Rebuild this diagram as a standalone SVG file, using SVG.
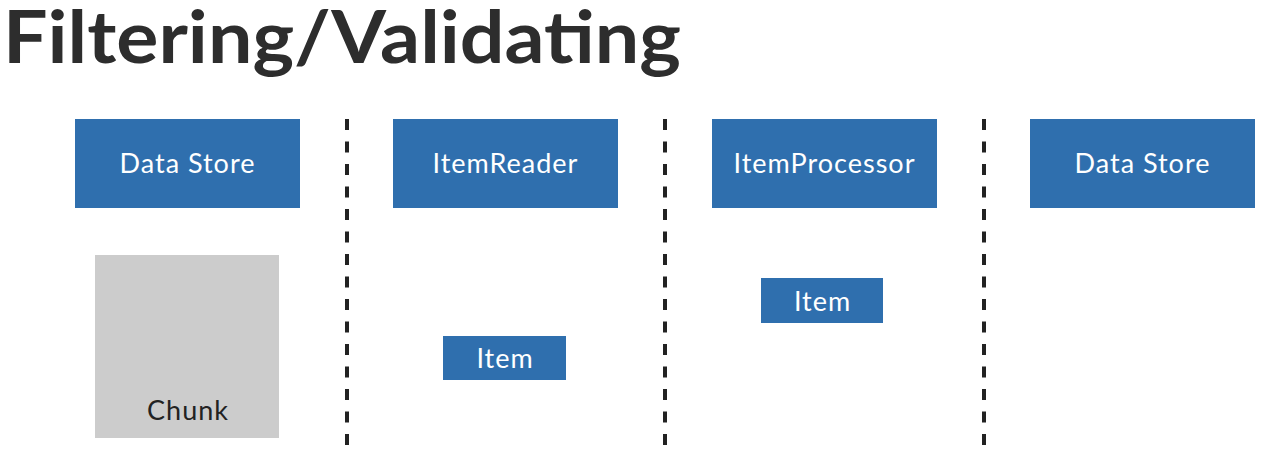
<svg xmlns="http://www.w3.org/2000/svg" width="1264" height="452" viewBox="0 0 1264 452">
<style>
.box{fill:#2f6fae}
.lbl{fill:#ffffff;font-family:Lato,"Open Sans","Liberation Sans",sans-serif;font-size:27px;letter-spacing:1px;text-anchor:middle}
.sep{stroke:#222222;stroke-width:4;stroke-dasharray:11 11.5}
</style>
<rect width="1264" height="452" fill="#ffffff"/>
<text x="3" y="63" font-family="Lato,'Liberation Sans',sans-serif" font-weight="700" font-size="73" fill="#2d2d2d" textLength="678" lengthAdjust="spacingAndGlyphs">Filtering/Validating</text>
<g id="connectors">
<line class="sep" x1="347" y1="119" x2="347" y2="452"/>
<line class="sep" x1="665" y1="119" x2="665" y2="452"/>
<line class="sep" x1="984" y1="119" x2="984" y2="452"/>
</g>
<g id="datastore1"><rect class="box" x="75" y="119" width="225" height="89"/><text class="lbl" x="187.5" y="173">Data Store</text></g>
<g id="itemreader"><rect class="box" x="393" y="119" width="225" height="89"/><text class="lbl" x="505.5" y="173">ItemReader</text></g>
<g id="itemprocessor"><rect class="box" x="712" y="119" width="225" height="89"/><text class="lbl" x="824.5" y="173">ItemProcessor</text></g>
<g id="datastore2"><rect class="box" x="1030" y="119" width="225" height="89"/><text class="lbl" x="1142.5" y="173">Data Store</text></g>
<g id="chunk"><rect x="95" y="255" width="184" height="183" fill="#cccccc"/><text x="188" y="420" font-family="Lato,'Open Sans','Liberation Sans',sans-serif" font-size="27" letter-spacing="1" fill="#222222" text-anchor="middle">Chunk</text></g>
<g id="item1"><rect class="box" x="443" y="336" width="123" height="44"/><text class="lbl" x="505" y="368">Item</text></g>
<g id="item2"><rect class="box" x="761" y="278" width="122" height="45"/><text class="lbl" x="822.5" y="311">Item</text></g>
</svg>
